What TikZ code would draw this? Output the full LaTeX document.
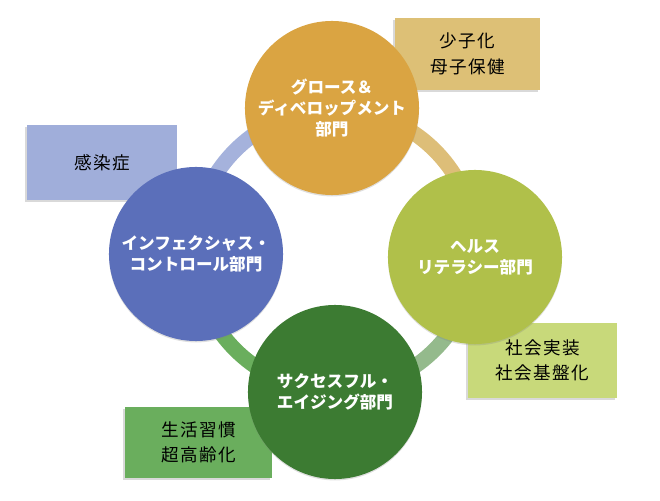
\documentclass[tikz,border=0pt]{standalone}
\usepackage{fontspec}
\setmainfont{Noto Sans CJK JP}
\usepackage{tikz}
\usetikzlibrary{shadows}

\definecolor{orangeDept}{RGB}{218,164,66}
\definecolor{limeDept}{RGB}{176,192,74}
\definecolor{blueDept}{RGB}{91,111,186}
\definecolor{greenDept}{RGB}{60,123,50}
\definecolor{tanBox}{RGB}{221,192,118}
\definecolor{lavBox}{RGB}{160,174,218}
\definecolor{limeBox}{RGB}{200,217,122}
\definecolor{greenBox}{RGB}{106,174,93}
\definecolor{arcTL}{RGB}{165,178,220}
\definecolor{arcTR}{RGB}{221,190,120}
\definecolor{arcBR}{RGB}{148,186,140}
\definecolor{arcBL}{RGB}{106,174,93}

\begin{document}
\begin{tikzpicture}[x=0.025cm,y=0.025cm,
  dept/.style={circle,minimum size=4.35cm,inner sep=0pt,align=center,text=white,
    font=\fontsize{11.8}{15}\selectfont\bfseries,
    drop shadow={shadow xshift=0pt,shadow yshift=-1pt,opacity=.25}},
  topic/.style={rectangle,inner sep=0pt,align=center,text=black,
    font=\fontsize{12.5}{18}\selectfont\addfontfeature{LetterSpace=8},
    drop shadow={shadow xshift=-1.5pt,shadow yshift=-1.5pt,opacity=.3}},
  ringarc/.style={line width=0.38cm}]
\useasboundingbox (0,0) rectangle (660,501);

% Ring behind the four departments
\coordinate (ring) at (335,251);
\draw[ringarc,arcTR] (ring) ++(0:141) arc[start angle=0,end angle=90,radius=3.525cm];
\draw[ringarc,arcTL] (ring) ++(90:141) arc[start angle=90,end angle=180,radius=3.525cm];
\draw[ringarc,arcBL] (ring) ++(180:141) arc[start angle=180,end angle=270,radius=3.525cm];
\draw[ringarc,arcBR] (ring) ++(270:141) arc[start angle=270,end angle=360,radius=3.525cm];

% Topic boxes
\node[topic,fill=tanBox,minimum width=3.625cm,minimum height=1.8cm] (kids) at (467.5,447) {少子化\\母子保健};
\node[topic,fill=lavBox,minimum width=3.75cm,minimum height=1.875cm] (infect) at (102,338.5) {感染症};
\node[topic,fill=limeBox,minimum width=3.725cm,minimum height=1.875cm] (society) at (542.5,140.5) {社会実装\\社会基盤化};
\node[topic,fill=greenBox,minimum width=3.675cm,minimum height=1.775cm] (aging) at (198.5,58.5) {生活習慣\\超高齢化};

% Departments
\node[dept,fill=orangeDept] (growth) at (332,393) {グロース＆\\ディベロップメント\\部門};
\node[dept,fill=limeDept] (health) at (475,244) {ヘルス\\リテラシー部門};
\node[dept,fill=blueDept] (control) at (196,247) {インフェクシャス・\\コントロール部門};
\node[dept,fill=greenDept] (success) at (335,109) {サクセスフル・\\エイジング部門};
\end{tikzpicture}
\end{document}
